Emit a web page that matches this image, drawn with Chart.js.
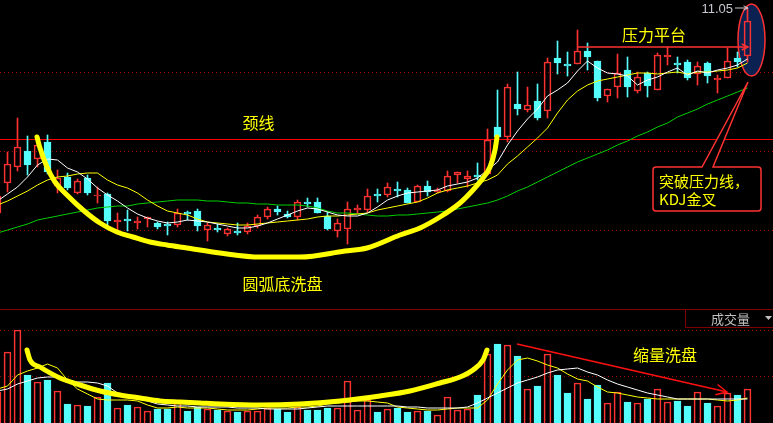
<!DOCTYPE html>
<html>
<head>
<meta charset="utf-8">
<script src="https://cdn.jsdelivr.net/npm/chart.js@4.4.0/dist/chart.umd.min.js"></script>
<style>
  html, body { margin: 0; padding: 0; background: #000; overflow: hidden; }
  #wrap { position: relative; width: 773px; height: 423px; }
  #price { position: absolute; left: 0; top: 0; }
  #vol { position: absolute; left: 0; top: 309px; }
</style>
</head>
<body>
<div id="wrap">
  <canvas id="price" width="773" height="309"></canvas>
  <canvas id="vol" width="773" height="114"></canvas>
</div>
<script>
// K-line data, first candle is the partly hidden one at the left edge
const firstDay = -1;
const open = [9.00, 9.30, 9.46, 9.62, 9.54, 9.71, 9.27, 9.36, 9.20, 9.35,
  9.17, 9.19, 8.91, 8.94, 8.90, 8.94, 8.90, 8.89, 8.88, 9.01,
  9.02, 8.83, 8.85, 8.79, 8.82, 8.81, 8.87, 8.96, 9.04, 8.99,
  8.96, 9.11, 9.11, 8.97, 8.82, 8.84, 9.03, 9.03, 9.19, 9.18,
  9.24, 9.23, 9.11, 9.27, 9.21, 9.22, 9.38, 9.34, 9.38, 9.39,
  9.86, 9.76, 10.09, 10.03, 10.12, 10.02, 10.55, 10.49, 10.49, 10.62,
  10.52, 10.17, 10.26, 10.43, 10.22, 10.40, 10.23, 10.56, 10.50, 10.51,
  10.39, 10.50, 10.33, 10.35, 10.55, 10.57];
const high = [9.18, 9.61, 9.95, 9.77, 9.77, 9.78, 9.43, 9.40, 9.34, 9.38,
  9.26, 9.20, 9.00, 9.03, 8.96, 8.96, 8.91, 8.91, 9.04, 9.02,
  9.04, 8.90, 8.89, 8.85, 8.90, 8.90, 8.98, 9.06, 9.07, 9.02,
  9.13, 9.15, 9.15, 9.01, 8.94, 9.11, 9.08, 9.24, 9.24, 9.30,
  9.31, 9.25, 9.28, 9.32, 9.25, 9.42, 9.41, 9.42, 9.50, 9.84,
  10.23, 10.29, 10.41, 10.26, 10.29, 10.55, 10.72, 10.61, 10.83, 10.70,
  10.52, 10.24, 10.59, 10.56, 10.41, 10.41, 10.60, 10.66, 10.56, 10.53,
  10.51, 10.51, 10.38, 10.65, 10.61, 11.05];
const low = [9.00, 9.21, 9.42, 9.38, 9.46, 9.39, 9.20, 9.23, 9.19, 9.18,
  9.10, 8.85, 8.82, 8.82, 8.84, 8.86, 8.84, 8.78, 8.86, 8.93,
  8.82, 8.72, 8.81, 8.77, 8.78, 8.79, 8.85, 8.94, 8.98, 8.95,
  8.93, 9.06, 9.00, 8.83, 8.76, 8.69, 9.00, 9.01, 9.11, 9.16,
  9.16, 9.10, 9.11, 9.17, 9.20, 9.21, 9.30, 9.26, 9.33, 9.38,
  9.76, 9.71, 9.98, 10.01, 9.93, 9.95, 10.39, 10.37, 10.49, 10.43,
  10.12, 10.11, 10.15, 10.16, 10.20, 10.16, 10.23, 10.48, 10.40, 10.33,
  10.28, 10.30, 10.20, 10.35, 10.46, 10.51];
const close = [9.17, 9.49, 9.66, 9.48, 9.68, 9.41, 9.35, 9.25, 9.32, 9.20,
  9.18, 8.92, 8.93, 8.92, 8.92, 8.96, 8.86, 8.87, 9.00, 8.99,
  8.87, 8.88, 8.83, 8.84, 8.80, 8.87, 8.96, 9.04, 9.01, 8.96,
  9.11, 9.09, 9.00, 8.84, 8.90, 9.04, 9.05, 9.17, 9.17, 9.26,
  9.22, 9.10, 9.27, 9.21, 9.23, 9.37, 9.41, 9.37, 9.36, 9.73,
  9.76, 10.26, 10.04, 10.08, 9.95, 10.51, 10.50, 10.47, 10.62, 10.56,
  10.15, 10.24, 10.40, 10.26, 10.36, 10.27, 10.58, 10.58, 10.48, 10.35,
  10.47, 10.37, 10.35, 10.52, 10.51, 10.92];

// moving averages on the price panel
const ma5 = [9.12, 9.19, 9.26, 9.36, 9.48, 9.54, 9.53, 9.45, 9.41, 9.34,
  9.25, 9.18, 9.12, 9.05, 8.99, 8.95, 8.92, 8.90, 8.91, 8.93,
  8.92, 8.91, 8.89, 8.87, 8.85, 8.85, 8.87, 8.90, 8.94, 8.98,
  9.02, 9.05, 9.04, 9.01, 8.98, 8.97, 8.97, 9.00, 9.06, 9.13,
  9.17, 9.20, 9.21, 9.22, 9.23, 9.27, 9.29, 9.31, 9.35, 9.43,
  9.51, 9.68, 9.82, 9.94, 10.04, 10.17, 10.23, 10.30, 10.42, 10.52,
  10.45, 10.40, 10.39, 10.37, 10.28, 10.33, 10.36, 10.41, 10.45, 10.38,
  10.42, 10.40, 10.43, 10.45, 10.48, 10.54];
const ma10 = [9.08, 9.12, 9.17, 9.22, 9.28, 9.33, 9.36, 9.37, 9.39, 9.40,
  9.40, 9.33, 9.28, 9.25, 9.20, 9.13, 9.07, 9.02, 9.00, 8.98,
  8.94, 8.91, 8.90, 8.89, 8.88, 8.88, 8.89, 8.90, 8.91, 8.92,
  8.93, 8.94, 8.96, 8.97, 8.97, 8.98, 8.99, 9.00, 9.03, 9.05,
  9.07, 9.09, 9.11, 9.15, 9.20, 9.23, 9.25, 9.27, 9.30, 9.33,
  9.38, 9.49, 9.57, 9.66, 9.75, 9.85, 10.00, 10.13, 10.22, 10.28,
  10.32, 10.34, 10.36, 10.38, 10.40, 10.40, 10.39, 10.40, 10.41, 10.39,
  10.41, 10.41, 10.42, 10.43, 10.45, 10.50];
const ma60 = [8.80, 8.83, 8.86, 8.89, 8.93, 8.95, 8.97, 8.99, 9.01, 9.03,
  9.05, 9.06, 9.07, 9.07, 9.09, 9.10, 9.11, 9.12, 9.13, 9.13,
  9.13, 9.12, 9.12, 9.11, 9.10, 9.10, 9.09, 9.09, 9.08, 9.08,
  9.08, 9.07, 9.05, 9.02, 9.00, 9.00, 8.99, 8.98, 8.97, 8.97,
  8.98, 8.98, 8.99, 9.00, 9.01, 9.02, 9.04, 9.06, 9.08, 9.10,
  9.13, 9.17, 9.22, 9.26, 9.31, 9.36, 9.41, 9.46, 9.51, 9.55,
  9.59, 9.63, 9.68, 9.72, 9.77, 9.81, 9.86, 9.90, 9.96, 10.00,
  10.04, 10.09, 10.13, 10.17, 10.21, 10.25];

// volume (万手) and its averages
const volume = [3.1, 7.1, 9.3, 4.8, 4.1, 4.3, 3.2, 1.9, 1.8, 1.7,
  2.6, 4.0, 1.5, 1.8, 1.6, 1.2, 1.4, 1.4, 2.3, 1.2,
  1.6, 1.4, 1.3, 1.2, 1.1, 1.2, 1.2, 1.5, 1.4, 1.1,
  1.6, 1.3, 1.3, 1.5, 1.5, 4.2, 1.3, 2.3, 1.1, 1.4,
  1.5, 1.1, 1.2, 1.2, 0.8, 2.6, 1.3, 1.4, 2.8, 6.9,
  7.9, 7.8, 6.7, 3.4, 3.7, 6.9, 4.8, 3.0, 4.0, 2.4,
  3.8, 2.0, 3.1, 2.1, 2.0, 2.4, 3.4, 2.1, 2.2, 1.7,
  3.1, 2.0, 1.7, 3.0, 2.8, 3.4];
const volMaWhite = [3.2, 3.4, 3.9, 4.2, 4.5, 4.6, 4.6, 4.3, 4.1, 4.1,
  4.0, 3.7, 3.0, 2.7, 2.4, 2.2, 1.9, 1.8, 1.7, 1.7,
  1.6, 1.6, 1.6, 1.6, 1.5, 1.5, 1.5, 1.4, 1.4, 1.4,
  1.4, 1.5, 1.6, 1.7, 1.7, 1.7, 1.7, 1.7, 1.7, 1.7,
  1.7, 1.6, 1.6, 1.5, 1.5, 1.5, 1.5, 1.6, 2.0, 2.5,
  3.0, 3.5, 4.0, 4.3, 4.6, 5.0, 5.3, 5.4, 5.5, 5.1,
  4.8, 4.3, 3.9, 3.6, 3.3, 3.0, 2.8, 2.6, 2.4, 2.4,
  2.4, 2.4, 2.4, 2.4, 2.4, 2.4];
const volMaYellow = [3.4, 3.7, 4.8, 5.2, 5.5, 5.9, 5.5, 4.3, 3.4, 2.9,
  2.4, 2.3, 2.3, 2.3, 2.2, 1.8, 1.5, 1.5, 1.6, 1.5,
  1.5, 1.5, 1.4, 1.3, 1.3, 1.3, 1.4, 1.5, 1.5, 1.5,
  1.6, 1.6, 1.7, 1.9, 2.0, 2.1, 2.2, 2.2, 2.1, 2.0,
  1.6, 1.5, 1.4, 1.3, 1.3, 1.4, 1.5, 1.5, 1.5, 2.3,
  3.9, 5.3, 6.3, 6.5, 6.2, 5.8, 5.5, 4.9, 4.4, 4.2,
  3.6, 3.1, 3.0, 2.8, 2.6, 2.5, 2.4, 2.4, 2.4, 2.4,
  2.4, 2.4, 2.3, 2.2, 2.3, 2.5];

// hand drawn marks (day index, value)
const priceArcX = [2.95, 3.25, 3.95, 4.75, 5.95, 7.55, 9.25, 10.95, 12.55, 14.25, 15.95, 17.95, 21.25,
  25.25, 29.25, 33.75, 35.95, 39.25, 41.25, 43.25, 45.25, 46.55, 47.55, 48.25, 48.75, 48.95];
const priceArcY = [9.76, 9.65, 9.46, 9.31, 9.18, 9.03, 8.90, 8.81, 8.76, 8.71, 8.68, 8.65, 8.60,
  8.56, 8.56, 8.62, 8.65, 8.78, 8.85, 8.96, 9.10, 9.23, 9.35, 9.46, 9.63, 9.76];
const volArcX = [1.95, 2.25, 3.25, 5.25, 7.25, 9.25, 11.25, 13.25, 15.25, 17.25, 19.25, 21.25,
  25.25, 29.25, 33.25, 37.25, 40.25, 43.25, 45.25, 46.55, 47.55, 47.95];
const volArcY = [7.3, 6.3, 5.6, 4.5, 3.8, 3.2, 2.8, 2.5, 2.2, 2.1, 2.0, 1.9,
  1.8, 1.9, 2.2, 2.7, 3.2, 4.0, 4.6, 5.3, 6.3, 7.3];
const volTrendX = [50.95, 71.95];
const volTrendY = [7.9, 3.1];
const resistX = [56.95, 74.05];
const resistY = [10.66, 10.66];

const priceGrid = [10.41, 9.62, 8.83];
const volGrid = [4.7, 9.3];
const neckline = 9.74;
const lastHigh = 11.05;

const RED = '#ff3232';
const CYAN = '#54fcfc';
const YELLOW = '#ffff00';
const GREEN = '#00d000';
const GRID = '#a00000';
const CJK = '"Noto Sans CJK SC", sans-serif';

const days = open.map((_, i) => i + firstDay);
const isUp = days.map((_, i) => close[i] >= open[i]);
const candleColor = isUp.map(u => u ? RED : CYAN);
const hollowFill = isUp.map(u => u ? 'rgba(0,0,0,0)' : CYAN);

function pts(xs, ys) { return xs.map((x, i) => ({ x: x, y: ys[i] })); }

function P(chart, x, y) {
    return [chart.scales.x.getPixelForValue(x), chart.scales.y.getPixelForValue(y)];
}

function arrowHead(ctx, x1, y1, x2, y2, size) {
    const a = Math.atan2(y2 - y1, x2 - x1);
    ctx.beginPath();
    ctx.moveTo(x2 - size * Math.cos(a - 0.45), y2 - size * Math.sin(a - 0.45));
    ctx.lineTo(x2, y2);
    ctx.lineTo(x2 - size * Math.cos(a + 0.45), y2 - size * Math.sin(a + 0.45));
    ctx.stroke();
}

function dottedGrid(chart, values) {
    const { ctx, chartArea } = chart;
    ctx.save();
    ctx.strokeStyle = GRID;
    ctx.lineWidth = 1;
    ctx.setLineDash([1, 3]);
    values.forEach(v => {
        const y = Math.round(chart.scales.y.getPixelForValue(v)) + 0.5;
        ctx.beginPath();
        ctx.moveTo(chartArea.left, y);
        ctx.lineTo(chartArea.right, y);
        ctx.stroke();
    });
    ctx.restore();
}

const xScale = { type: 'linear', min: -0.75, max: 76.55, offset: false, display: false };

function lineSet(data, color, width) {
    return { type: 'line', data: data, borderColor: color, borderWidth: width,
        pointRadius: 0, fill: false, tension: 0 };
}

// price panel decorations
const priceDecor = {
    id: 'priceDecor',
    beforeDatasetsDraw(chart) {
        const { ctx, chartArea } = chart;
        dottedGrid(chart, priceGrid);
        ctx.save();
        // neckline
        const ny = Math.round(chart.scales.y.getPixelForValue(neckline)) + 0.5;
        ctx.strokeStyle = '#ff0000';
        ctx.lineWidth = 1;
        ctx.beginPath();
        ctx.moveTo(chartArea.left, ny);
        ctx.lineTo(chartArea.right, ny);
        ctx.stroke();
        // ellipse round the breakout candle
        const [cx, cy] = P(chart, 74.4, 10.73);
        const rx = chart.scales.x.getPixelForValue(75.75) - cx;
        const ry = cy - chart.scales.y.getPixelForValue(11.09);
        ctx.beginPath();
        ctx.ellipse(cx, cy, rx, ry, 0, 0, Math.PI * 2);
        ctx.fillStyle = '#0b2152';
        ctx.fill();
        ctx.strokeStyle = RED;
        ctx.lineWidth = 1.5;
        ctx.stroke();
        ctx.restore();
    },
    afterDatasetsDraw(chart) {
        const { ctx } = chart;
        ctx.save();
        // resistance arrow
        const [ax1, ay1] = P(chart, resistX[0], resistY[0]);
        const [ax2, ay2] = P(chart, resistX[1], resistY[1]);
        ctx.strokeStyle = RED;
        ctx.lineWidth = 1.5;
        ctx.beginPath();
        ctx.moveTo(ax1, ay1);
        ctx.lineTo(ax2, ay2);
        ctx.stroke();
        arrowHead(ctx, ax1, ay1, ax2, ay2, 7);

        // labels
        ctx.fillStyle = YELLOW;
        ctx.font = '16px ' + CJK;
        ctx.textAlign = 'center';
        ctx.textBaseline = 'middle';
        [['颈线', 25.1, 9.90], ['圆弧底洗盘', 27.5, 8.295], ['压力平台', 64.65, 10.785]].forEach(l => {
            const [x, y] = P(chart, l[1], l[2]);
            ctx.fillText(l[0], x, y);
        });

        // last high
        const [hx, hy] = P(chart, 72.55, lastHigh);
        ctx.fillStyle = '#c8c8d0';
        ctx.font = '13px "Liberation Sans", sans-serif';
        ctx.textAlign = 'right';
        ctx.fillText(lastHigh.toFixed(2), hx, hy + 1);
        const [gx2] = P(chart, 74.05, lastHigh);
        ctx.strokeStyle = '#c8c8d0';
        ctx.lineWidth = 1;
        ctx.beginPath();
        ctx.moveTo(hx + 2, hy);
        ctx.lineTo(gx2, hy);
        ctx.stroke();
        arrowHead(ctx, hx + 2, hy, gx2, hy, 5);

        // callout box with tail
        const [bl, bt] = P(chart, 64.55, 9.46);
        const [br, bb] = P(chart, 75.35, 9.02);
        const [t1] = P(chart, 69.45, 9.46);
        const [t2] = P(chart, 70.55, 9.46);
        const [tx, ty] = P(chart, 74.05, 10.31);
        const r = 3;
        ctx.beginPath();
        ctx.moveTo(t2, bt);
        ctx.lineTo(br - r, bt);
        ctx.arcTo(br, bt, br, bt + r, r);
        ctx.lineTo(br, bb - r);
        ctx.arcTo(br, bb, br - r, bb, r);
        ctx.lineTo(bl + r, bb);
        ctx.arcTo(bl, bb, bl, bb - r, r);
        ctx.lineTo(bl, bt + r);
        ctx.arcTo(bl, bt, bl + r, bt, r);
        ctx.lineTo(t1, bt);
        ctx.lineTo(tx, ty);
        ctx.closePath();
        ctx.fillStyle = '#000';
        ctx.fill();
        ctx.strokeStyle = RED;
        ctx.lineWidth = 1.5;
        ctx.stroke();
        ctx.fillStyle = YELLOW;
        ctx.font = '15px ' + CJK;
        ctx.textAlign = 'left';
        const [lx, ly1] = P(chart, 65.15, 9.32);
        const [, ly2] = P(chart, 65.15, 9.14);
        ctx.fillText('突破压力线，', lx, ly1);
        ctx.fillText('KDJ金叉', lx, ly2);
        ctx.restore();
    }
};

// volume panel decorations
const volDecor = {
    id: 'volDecor',
    beforeDatasetsDraw(chart) {
        const { ctx, chartArea } = chart;
        ctx.save();
        ctx.strokeStyle = '#800000';
        ctx.lineWidth = 1;
        ctx.beginPath();
        ctx.moveTo(chartArea.left, chartArea.top + 0.5);
        ctx.lineTo(chartArea.right, chartArea.top + 0.5);
        ctx.stroke();
        ctx.restore();
        dottedGrid(chart, volGrid);
    },
    afterDatasetsDraw(chart) {
        const { ctx, chartArea } = chart;
        ctx.save();
        const [x1, y1] = P(chart, volTrendX[0], volTrendY[0]);
        const [x2, y2] = P(chart, volTrendX[1], volTrendY[1]);
        ctx.strokeStyle = '#ff1010';
        ctx.lineWidth = 1.5;
        arrowHead(ctx, x1, y1, x2, y2, 12);

        ctx.fillStyle = YELLOW;
        ctx.font = '16px ' + CJK;
        ctx.textAlign = 'center';
        ctx.textBaseline = 'middle';
        const [lx, ly] = P(chart, 65.75, 6.8);
        ctx.fillText('缩量洗盘', lx, ly);

        // indicator tab
        const left = chartArea.right - 87.5;
        ctx.fillStyle = '#000';
        ctx.fillRect(left, chartArea.top + 1, chartArea.right - left, 18);
        ctx.strokeStyle = '#800000';
        ctx.lineWidth = 1;
        ctx.beginPath();
        ctx.moveTo(left, chartArea.top);
        ctx.lineTo(left, chartArea.top + 18.5);
        ctx.lineTo(chartArea.right, chartArea.top + 18.5);
        ctx.stroke();
        ctx.fillStyle = '#c0c0c0';
        ctx.font = '13px ' + CJK;
        ctx.fillText('成交量', left + 45, chartArea.top + 10);
        ctx.beginPath();
        ctx.moveTo(chartArea.right - 8, chartArea.top + 7);
        ctx.lineTo(chartArea.right - 1, chartArea.top + 7);
        ctx.lineTo(chartArea.right - 4.5, chartArea.top + 11);
        ctx.closePath();
        ctx.fill();
        ctx.restore();
    }
};

const baseOptions = {
    responsive: false,
    animation: false,
    devicePixelRatio: 1,
    events: [],
    layout: { padding: 0 },
    plugins: { legend: { display: false }, tooltip: { enabled: false } }
};

new Chart(document.getElementById('price'), {
    type: 'bar',
    data: {
        datasets: [
            Object.assign(lineSet(pts(priceArcX, priceArcY), YELLOW, 5),
                { cubicInterpolationMode: 'monotone', borderCapStyle: 'round' }),
            lineSet(pts(days, ma5), '#ffffff', 1),
            lineSet(pts(days, ma10), YELLOW, 1),
            lineSet(pts(days, ma60), GREEN, 1),
            {
                data: days.map((d, i) => ({ x: d, y: [open[i], close[i]] })),
                backgroundColor: hollowFill, borderColor: candleColor, borderWidth: 1,
                borderSkipped: false, barThickness: 7, grouped: false, minBarLength: 1
            },
            {
                data: days.map((d, i) => ({ x: d, y: [Math.max(open[i], close[i]), high[i]] })),
                backgroundColor: candleColor, borderWidth: 0, barThickness: 1, grouped: false
            },
            {
                data: days.map((d, i) => ({ x: d, y: [low[i], Math.min(open[i], close[i])] })),
                backgroundColor: candleColor, borderWidth: 0, barThickness: 1, grouped: false
            }
        ]
    },
    options: Object.assign({}, baseOptions, {
        scales: {
            x: xScale,
            y: { type: 'linear', min: 8.04, max: 11.13, display: false }
        }
    }),
    plugins: [priceDecor]
});

new Chart(document.getElementById('vol'), {
    type: 'bar',
    data: {
        datasets: [
            Object.assign(lineSet(pts(volArcX, volArcY), YELLOW, 5),
                { cubicInterpolationMode: 'monotone', borderCapStyle: 'round' }),
            lineSet(pts(volTrendX, volTrendY), '#ff1010', 1.5),
            lineSet(pts(days, volMaWhite), '#ffffff', 1),
            lineSet(pts(days, volMaYellow), YELLOW, 1),
            {
                data: days.map((d, i) => ({ x: d, y: volume[i] })),
                backgroundColor: hollowFill, borderColor: candleColor, borderWidth: 1,
                borderSkipped: 'start', barThickness: 7, grouped: false
            }
        ]
    },
    options: Object.assign({}, baseOptions, {
        scales: {
            x: xScale,
            y: { type: 'linear', min: 0, max: 11.4, display: false }
        }
    }),
    plugins: [volDecor]
});
</script>
</body>
</html>
